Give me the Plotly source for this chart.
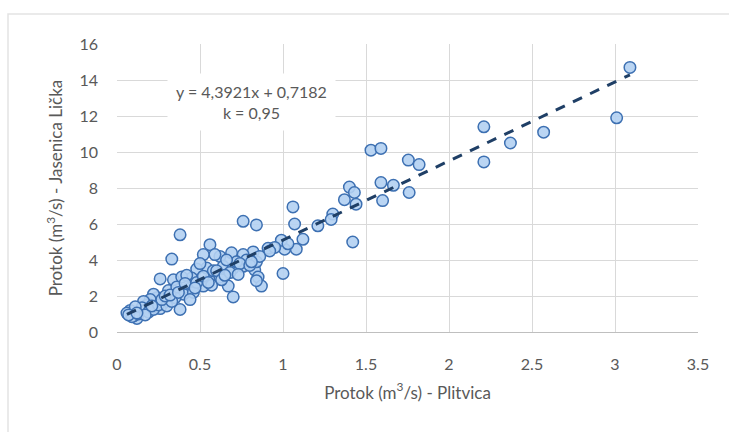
import plotly.graph_objects as go

# Flow at Plitvica (m3/s) and flow at Jasenica Lička (m3/s)
x_plitvica = [
    3.09, 3.01, 2.21, 2.21, 2.57, 2.37,
    1.53, 1.59, 1.755, 1.82, 1.59, 1.665, 1.60, 1.76,
    1.40, 1.43, 1.37, 1.44, 1.30, 1.29, 1.21, 1.42,
    1.06, 1.07, 1.12, 1.08, 1.01, 0.99, 1.00, 1.03,
    0.91, 0.76, 0.84, 0.82, 0.76, 0.69, 0.62, 0.56, 0.59, 0.52,
    0.54, 0.64, 0.70, 0.76, 0.83, 0.85, 0.87, 0.67, 0.70, 0.84,
    0.56, 0.52, 0.62, 0.78, 0.84, 0.72, 0.66, 0.58, 0.48, 0.45, 0.50,
    0.38, 0.33, 0.26, 0.34, 0.39, 0.42, 0.43, 0.40, 0.38, 0.35,
    0.31, 0.28, 0.26, 0.24, 0.22, 0.20, 0.18, 0.16, 0.14, 0.12,
    0.10, 0.08, 0.06, 0.09, 0.13, 0.15, 0.19, 0.22, 0.25, 0.30,
    0.33, 0.36, 0.41, 0.46, 0.48, 0.52, 0.57, 0.60, 0.63, 0.68,
    0.74, 0.80, 0.86, 0.95, 0.11, 0.17, 0.27, 0.29, 0.44, 0.07,
    0.12, 0.21, 0.32, 0.37, 0.47, 0.55, 0.65, 0.73, 0.81, 0.92,
]
y_jasenica = [
    14.7, 11.9, 11.4, 9.45, 11.1, 10.5,
    10.1, 10.2, 9.55, 9.3, 8.3, 8.15, 7.3, 7.75,
    8.05, 7.75, 7.35, 7.1, 6.55, 6.25, 5.9, 5.0,
    6.95, 6.0, 5.15, 4.6, 4.6, 5.1, 3.25, 4.9,
    4.65, 6.15, 5.95, 4.45, 4.3, 4.4, 4.2, 4.85, 4.3, 4.3,
    3.55, 3.65, 3.55, 3.65, 3.45, 3.05, 2.55, 2.55, 1.95, 2.85,
    2.9, 2.55, 3.05, 4.0, 3.9, 3.9, 4.0, 3.4, 3.5, 3.0, 3.8,
    5.4, 4.05, 2.95, 2.9, 3.05, 3.15, 2.4, 2.1, 1.25, 1.9,
    2.3, 1.6, 1.3, 1.9, 2.1, 1.8, 1.5, 1.7, 1.2, 0.75,
    0.9, 1.2, 1.05, 0.85, 1.0, 1.35, 1.1, 1.25, 1.5, 1.45,
    1.7, 2.5, 2.7, 2.2, 2.75, 3.1, 2.6, 3.4, 2.9, 3.3,
    3.8, 3.7, 4.2, 4.7, 1.4, 0.95, 1.8, 2.0, 1.8, 0.95,
    1.05, 1.45, 2.05, 2.2, 2.45, 2.75, 3.15, 3.2, 3.9, 4.5,
]

slope = 4.3921
intercept = 0.7182
k_value = "0,95"
trend_x = [min(x_plitvica), max(x_plitvica)]
trend_y = [slope * v + intercept for v in trend_x]

x_ticks = [0, 0.5, 1, 1.5, 2, 2.5, 3, 3.5]
y_ticks = [0, 2, 4, 6, 8, 10, 12, 14, 16]

FONT = "Lato, 'Open Sans', sans-serif"
GRAY = "#595959"

fig = go.Figure()
fig.add_trace(go.Scatter(
    x=x_plitvica, y=y_jasenica, mode="markers",
    marker=dict(size=11.5, color="rgba(178,208,242,0.9)",
                line=dict(color="#3d70b2", width=1.5)),
    showlegend=False, hoverinfo="x+y",
))
fig.add_trace(go.Scatter(
    x=trend_x, y=trend_y, mode="lines",
    line=dict(color="#1f3f66", width=3, dash="10px,9px"),
    showlegend=False, hoverinfo="skip",
))

fig.add_annotation(
    x=0.81, y=12.8, xref="x", yref="y",
    text="y = 4,3921x + 0,7182<br>k = " + k_value,
    showarrow=False, align="center",
    font=dict(family=FONT, size=16, color=GRAY),
    bgcolor="white", borderpad=8,
)

# light chart border (only its left and top edges fall inside the picture)
fig.add_shape(type="rect", xref="paper", yref="paper",
              x0=-0.1876, x1=1.12, y0=-0.42, y1=1.104,
              line=dict(color="#e3e3e3", width=1.5), fillcolor="rgba(0,0,0,0)",
              layer="below")

fig.update_layout(
    width=729, height=432,
    margin=dict(l=117, r=31, t=44, b=100),
    paper_bgcolor="white", plot_bgcolor="white",
    font=dict(family=FONT, color=GRAY),
    xaxis=dict(
        range=[0, 3.5], tickvals=x_ticks, ticktext=[str(t) for t in x_ticks],
        showgrid=True, gridcolor="#d9d9d9", gridwidth=1,
        showline=True, linecolor="#bfbfbf", linewidth=1,
        zeroline=False, ticks="", tickfont=dict(size=16, color=GRAY),
        ticklabelstandoff=18,
        title=dict(text="Protok (m<sup>3</sup>/s) - Plitvica",
                   font=dict(size=17, color=GRAY), standoff=14),
    ),
    yaxis=dict(
        range=[0, 16], tickvals=y_ticks,
        showgrid=True, gridcolor="#d9d9d9", gridwidth=1,
        showline=False, zeroline=False, ticks="",
        tickfont=dict(size=16, color=GRAY),
        ticklabelstandoff=18,
        title=dict(text="Protok (m<sup>3</sup>/s) - Jasenica Lička",
                   font=dict(size=17, color=GRAY), standoff=12),
    ),
)

fig.write_html("out.html")
